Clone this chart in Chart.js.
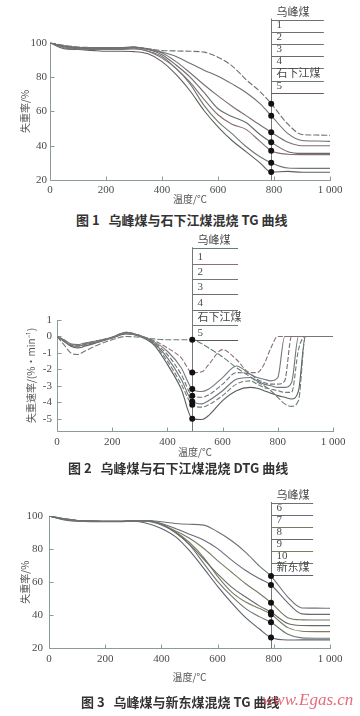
<!DOCTYPE html>
<html lang="zh">
<head>
<meta charset="utf-8">
<script src="https://cdn.jsdelivr.net/npm/chart.js@4.4.1/dist/chart.umd.min.js"></script>
<style>
    html, body { margin: 0; padding: 0; background: #fff; }
    body { width: 360px; height: 716px; position: relative; overflow: hidden; }
    canvas { position: absolute; left: 0; }
    .caption {
        position: absolute;
        font-family: 'Noto Sans CJK SC', sans-serif;
        font-weight: bold;
        font-size: 13px;
        line-height: 14px;
        color: #333;
        white-space: pre;
    }
    .mark {
        position: absolute;
        font-family: 'Liberation Serif', serif;
        font-style: italic;
        font-size: 17px;
        line-height: 18px;
        color: rgba(222, 70, 90, 0.8);
    }
</style>
</head>
<body>
<canvas id="tg1" width="360" height="205" style="top:0px"></canvas>
<div class="caption" style="left:76px;top:213px">图 1   乌峰煤与石下江煤混烧 TG 曲线</div>

<canvas id="dtg2" width="360" height="235" style="top:225px"></canvas>
<div class="caption" style="left:68px;top:461px">图 2   乌峰煤与石下江煤混烧 DTG 曲线</div>

<canvas id="tg3" width="360" height="205" style="top:480px"></canvas>
<div class="caption" style="left:81px;top:695px">图 3   乌峰煤与新东煤混烧 TG 曲线</div>
<div class="mark" style="left:262px;top:691px">www.Egas.cn</div>

<script>
// ---------- shared axes ----------
const xTicks = [0, 200, 400, 600, 800, 1000];
const xTickLabels = ['0', '200', '400', '600', '800', '1 000'];
const tgYTicks = [20, 40, 60, 80, 100];
const tgYTickLabels = ['20', '40', '60', '80', '100'];
const dtgYTicks = [1, 0, -1, -2, -3, -4, -5];
const dtgYTickLabels = ['1', '0', '-1', '-2', '-3', '-4', '-5'];

// ---------- Fig. 1: TG, 乌峰煤 / 石下江煤 ----------
const tgTemps1 = [0, 50, 100, 150, 200, 250, 300, 350, 400, 450, 500, 550, 600, 650, 700, 750, 790, 850, 900, 950, 1000];
const tgLabels1 = ['乌峰煤', '1', '2', '3', '4', '石下江煤', '5'];
const tg1Wufeng = [100, 98.5, 97.5, 97.2, 97, 97, 97.3, 96.5, 95.5, 95.2, 95, 94.5, 91.5, 86.5, 78.5, 71.5, 64.5, 52.5, 46.5, 46.2, 46];
const tg1Mix1 = [100, 98, 97.3, 97, 97, 97, 97.3, 96.5, 94.5, 92, 88, 84, 80.5, 76, 71, 64.5, 57.5, 47, 43, 42.7, 42.5];
const tg1Mix2 = [100, 98, 97, 97, 97, 97, 97.5, 96, 94, 89, 82.5, 75.5, 69, 63, 57.5, 52, 47.8, 42, 40, 40, 40];
const tg1Mix3 = [100, 98, 97, 96.8, 96.8, 97, 97.5, 96, 93, 87, 80, 71, 61.5, 57, 53.5, 46.5, 42, 36.5, 35.5, 35.5, 35.5];
const tg1Mix4 = [100, 97.5, 96.5, 96.5, 96.5, 96.5, 96.8, 95, 92, 85, 77, 67, 58, 52.5, 49.5, 42.5, 37, 35, 34.8, 34.8, 34.8];
const tg1Shixia = [100, 97, 96.2, 96, 96, 96, 96.3, 95, 91, 85, 76, 63.5, 54, 47, 39.5, 33.5, 30, 27, 26.8, 26.8, 26.8];
const tg1Mix5 = [100, 96.5, 96, 95.5, 95, 95, 94.8, 93.5, 89, 81.5, 72, 60.5, 51, 43, 36.5, 30, 24.6, 25, 24.5, 24.5, 24.5];
const tgColors1 = ['#6b7470', '#707070', '#7a6e70', '#666c6c', '#876f70', '#6d7a6e', '#5f5f5f'];

// ---------- Fig. 2: DTG, 乌峰煤 / 石下江煤 ----------
const dtgTemps = [0, 25, 50, 75, 100, 150, 200, 250, 300, 350, 400, 450, 490, 525, 550, 600, 650, 700, 725, 750, 775, 800, 825, 850, 875, 900, 950, 1000];
const dtgLabels = ['乌峰煤', '1', '2', '3', '4', '石下江煤', '5'];
const dtgWufeng = [0, -0.5, -1.0, -1.1, -0.9, -0.5, -0.2, 0.0, -0.05, -0.15, -0.2, -0.2, -0.2, -0.45, -0.7, -1.25, -1.9, -2.45, -2.75, -3.0, -3.3, -3.7, -4.1, -4.25, -3.9, 0, 0, 0];
const dtgMix1 = [0, -0.3, -0.5, -0.55, -0.45, -0.3, -0.1, 0.2, 0.05, -0.25, -0.7, -1.3, -2.2, -2.15, -1.7, -0.8, -1.4, -2.2, -2.2, -1.7, -0.7, 0, 0, 0, 0, 0, 0, 0];
const dtgMix2 = [0, -0.2, -0.45, -0.5, -0.4, -0.25, -0.05, 0.25, 0.05, -0.3, -0.9, -1.9, -3.2, -3.35, -3.2, -2.5, -1.8, -2.3, -2.5, -2.6, -2.7, -2.5, 0, 0, 0, 0, 0, 0];
const dtgMix3 = [0, -0.2, -0.5, -0.55, -0.45, -0.25, -0.05, 0.25, 0.05, -0.35, -1.1, -2.3, -3.6, -3.7, -3.55, -2.9, -2.2, -2.3, -2.6, -2.8, -2.9, -2.9, -2.7, 0, 0, 0, 0, 0];
const dtgMix4 = [0, -0.25, -0.55, -0.6, -0.5, -0.3, -0.05, 0.2, 0.05, -0.4, -1.3, -2.6, -3.95, -4.1, -3.9, -3.3, -2.6, -2.5, -2.7, -2.9, -3.0, -3.1, -3.1, -2.8, 0, 0, 0, 0];
const dtgShixia = [0, -0.25, -0.55, -0.65, -0.55, -0.3, -0.05, 0.2, 0.05, -0.45, -1.5, -2.9, -4.15, -4.3, -4.15, -3.6, -2.9, -2.7, -2.9, -3.1, -3.2, -3.3, -3.4, -3.4, -0.8, 0, 0, 0];
const dtgMix5 = [0, -0.3, -0.6, -0.7, -0.6, -0.35, -0.1, 0.15, 0.0, -0.5, -1.7, -3.2, -5.0, -5.05, -4.8, -3.9, -3.3, -3.1, -3.15, -3.3, -3.45, -3.6, -3.7, -3.8, -3.3, 0, 0, 0];
const dtgColors = ['#6b7d78', '#8c7070', '#6f7a80', '#707070', '#6e7380', '#6a8070', '#5a5a5a'];

// ---------- Fig. 3: TG, 乌峰煤 / 新东煤 ----------
const tgTemps3 = [0, 50, 100, 150, 200, 250, 300, 350, 400, 450, 500, 550, 600, 650, 700, 750, 790, 850, 900, 950, 1000];
const tgLabels3 = ['乌峰煤', '6', '7', '8', '9', '10', '新东煤'];
const tg3Wufeng = [100, 98.5, 97.3, 97, 96.8, 96.8, 97.2, 97.3, 96.5, 95.5, 95, 94.5, 90.5, 85, 78, 69.5, 63.7, 51, 44.4, 44.3, 44.2];
const tg3Mix6 = [100, 98.5, 97.3, 97, 96.8, 96.8, 97.2, 97.3, 95.5, 92.5, 89, 85.5, 80.3, 73.3, 67, 62, 58.3, 47.5, 40.8, 40.5, 40.5];
const tg3Mix7 = [100, 98.2, 97.2, 97, 96.8, 96.8, 97.2, 97.2, 95, 91, 86.5, 80.5, 73, 66, 59, 53, 47.6, 38.5, 37.2, 37.1, 37.1];
const tg3Mix8 = [100, 98.2, 97.2, 97, 96.8, 96.8, 97.2, 97, 95, 90, 83, 74, 65, 57, 51, 45.5, 41.8, 35, 33.8, 33.7, 33.7];
const tg3Mix9 = [100, 98, 97, 96.8, 96.7, 96.7, 97, 97, 95, 90.5, 84, 75, 63.5, 54, 48, 44, 40.5, 32.5, 30.3, 30.1, 30.1];
const tg3Mix10 = [100, 98, 97, 96.8, 96.7, 96.7, 97, 96.8, 94.5, 90, 82.5, 71.5, 60.5, 51.5, 44, 39, 35.7, 28.5, 26.3, 26.1, 26.1];
const tg3Xindong = [100, 97.8, 96.8, 96.5, 96.5, 96.5, 96.8, 95.5, 92.5, 87.5, 79, 68.5, 57.5, 47.5, 38.5, 31.5, 26.5, 25, 25.1, 25.1, 25.1];
const tgColors3 = ['#6b7470', '#6d6a78', '#7a7a62', '#6a6a6a', '#807a60', '#6b7a70', '#5f6070'];

const AXIS_COLOR = '#8c9c94';
const TEXT_COLOR = '#4a4a4a';

Chart.defaults.font.family = "'Liberation Serif', 'Noto Sans CJK SC', serif";
Chart.defaults.color = TEXT_COLOR;

/**
 * Axis lines with short inward tick marks (as in the printed figure)
 */
const inwardAxes = {
    id: 'inwardAxes',
    beforeDatasetsDraw(chart) {
        const { ctx, chartArea: a, scales: { x, y } } = chart;
        const L = Math.round(a.left) + 0.5;
        const B = Math.round(a.bottom) + 0.5;
        ctx.save();
        ctx.strokeStyle = AXIS_COLOR;
        ctx.lineWidth = 1;
        ctx.beginPath();
        ctx.moveTo(L, Math.round(a.top));
        ctx.lineTo(L, B);
        ctx.lineTo(Math.round(a.right) + 1, B);
        x.ticks.forEach(t => {
            const px = Math.round(x.getPixelForValue(t.value)) + 0.5;
            ctx.moveTo(px, B);
            ctx.lineTo(px, B - 4);
        });
        y.ticks.forEach(t => {
            const py = Math.round(y.getPixelForValue(t.value)) + 0.5;
            ctx.moveTo(L, py);
            ctx.lineTo(L + 4, py);
        });
        ctx.stroke();
        ctx.restore();
    }
};

/**
 * Step legend: a vertical marker line at one temperature with
 * one labelled horizontal rule per series stacked above the plot
 */
const stepLegend = {
    id: 'stepLegend',
    beforeDatasetsDraw(chart, args, opts) {
        const { ctx, chartArea: a, scales: { x } } = chart;
        const vx = Math.round(x.getPixelForValue(opts.atT)) + 0.5;
        const ex = x.getPixelForValue(opts.endT);
        ctx.save();
        ctx.lineWidth = 1;
        ctx.strokeStyle = '#6f7a74';
        ctx.beginPath();
        ctx.moveTo(vx, opts.top - 1);
        ctx.lineTo(vx, a.bottom);
        ctx.stroke();
        ctx.font = "11px 'Liberation Serif', 'Noto Sans CJK SC', serif";
        ctx.textBaseline = 'bottom';
        ctx.textAlign = 'left';
        chart.data.datasets.forEach((ds, i) => {
            const ly = Math.round(opts.top + i * opts.step) + 0.5;
            ctx.strokeStyle = ds.borderColor;
            ctx.beginPath();
            ctx.moveTo(vx, ly);
            ctx.lineTo(ex, ly);
            ctx.stroke();
            ctx.fillStyle = TEXT_COLOR;
            ctx.fillText(ds.label, vx + 5, ly - 1.5);
        });
        ctx.restore();
    }
};

/**
 * Builds one thermogram chart
 */
function makeChart(canvasId, temps, seriesList, labels, colors, cfg) {
    const datasets = seriesList.map((vals, i) => ({
        label: labels[i],
        data: temps.map((t, k) => ({ x: t, y: vals[k] })),
        borderColor: colors[i],
        borderWidth: 1.1,
        borderDash: cfg.dashes ? cfg.dashes[i] : [],
        cubicInterpolationMode: 'monotone',
        pointRadius: ctx => (ctx.raw && ctx.raw.x === cfg.markT ? 3 : 0),
        pointBackgroundColor: '#111',
        pointBorderWidth: 0,
        fill: false
    }));

    return new Chart(document.getElementById(canvasId), {
        type: 'line',
        data: { datasets },
        plugins: [inwardAxes, stepLegend],
        options: {
            responsive: false,
            animation: false,
            devicePixelRatio: 1,
            layout: { padding: cfg.padding },
            plugins: {
                legend: { display: false },
                tooltip: { enabled: false },
                stepLegend: cfg.legend
            },
            scales: {
                x: {
                    type: 'linear',
                    min: 0,
                    max: 1000,
                    grid: { display: false, drawTicks: false },
                    border: { display: false },
                    afterBuildTicks: s => { s.ticks = xTicks.map(v => ({ value: v })); },
                    afterFit: s => { s.height = cfg.xHeight; },
                    ticks: {
                        autoSkip: false,
                        maxRotation: 0,
                        padding: cfg.xTickPad,
                        color: TEXT_COLOR,
                        font: { size: 11 },
                        callback: (v, i) => xTickLabels[i]
                    },
                    title: {
                        display: true,
                        text: '温度/℃',
                        color: '#555',
                        padding: 0,
                        font: { size: 10, family: "'Noto Sans CJK SC', sans-serif" }
                    }
                },
                y: {
                    min: cfg.yMin,
                    max: cfg.yMax,
                    grid: { display: false, drawTicks: false },
                    border: { display: false },
                    afterBuildTicks: s => { s.ticks = cfg.yTicks.map(v => ({ value: v })); },
                    afterFit: s => { s.width = cfg.yWidth; },
                    ticks: {
                        autoSkip: false,
                        padding: cfg.yTickPad,
                        color: TEXT_COLOR,
                        font: { size: 11 },
                        callback: (v, i) => cfg.yTickLabels[i]
                    },
                    title: {
                        display: true,
                        text: cfg.yTitle,
                        color: '#555',
                        padding: 0,
                        font: { size: 10, family: "'Noto Sans CJK SC', sans-serif" }
                    }
                }
            }
        }
    });
}

makeChart('tg1', tgTemps1,
    [tg1Wufeng, tg1Mix1, tg1Mix2, tg1Mix3, tg1Mix4, tg1Shixia, tg1Mix5],
    tgLabels1, tgColors1, {
        markT: 790,
        padding: { left: 19, top: 42.7, right: 30, bottom: 0 },
        yWidth: 31, xHeight: 25, yTickPad: 3, xTickPad: 4,
        yMin: 20, yMax: 100, yTicks: tgYTicks, yTickLabels: tgYTickLabels,
        yTitle: '失重率/%',
        dashes: [[6, 2], [], [], [], [], [], []],
        legend: { atT: 790, endT: 978, top: 19.5, step: 12.2 }
    });

makeChart('dtg2', dtgTemps,
    [dtgWufeng, dtgMix1, dtgMix2, dtgMix3, dtgMix4, dtgShixia, dtgMix5],
    dtgLabels, dtgColors, {
        markT: 490,
        padding: { left: 25.7, top: 95, right: 27, bottom: 2 },
        yWidth: 31.3, xHeight: 27, yTickPad: 5, xTickPad: 4.5,
        yMin: -5.75, yMax: 1, yTicks: dtgYTicks, yTickLabels: dtgYTickLabels,
        yTitle: '失重速率/(%·min⁻¹)',
        dashes: [[6, 2], [5, 2], [], [5, 2], [], [5, 2], []],
        legend: { atT: 490, endT: 656, top: 23.3, step: 15.3 }
    });

makeChart('tg3', tgTemps3,
    [tg3Wufeng, tg3Mix6, tg3Mix7, tg3Mix8, tg3Mix9, tg3Mix10, tg3Xindong],
    tgLabels3, tgColors3, {
        markT: 790,
        padding: { left: 19, top: 36, right: 30, bottom: 2 },
        yWidth: 30, xHeight: 34.7, yTickPad: 6, xTickPad: 4,
        yMin: 20, yMax: 100, yTicks: tgYTicks, yTickLabels: tgYTickLabels,
        yTitle: '失重率/%',
        legend: { atT: 790, endT: 940, top: 23, step: 12 }
    });
</script>
</body>
</html>
